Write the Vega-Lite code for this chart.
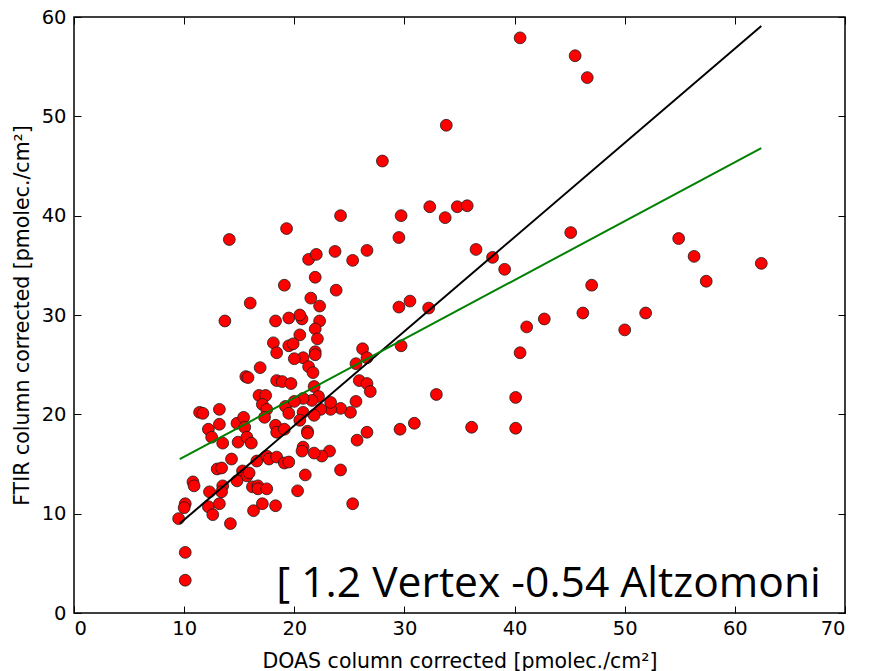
{
  "$schema": "https://vega.github.io/schema/vega-lite/v6.json",
  "width": 771,
  "height": 596,
  "autosize": {"type": "none"},
  "padding": {"left": 74, "top": 17, "right": 28, "bottom": 58},
  "background": "white",
  "config": {
    "view": {"stroke": "black", "strokeWidth": 1.5},
    "axis": {
      "grid": false, "domain": false,
      "labelFont": "DejaVu Sans", "labelFontSize": 19.5, "labelColor": "black",
      "tickColor": "black", "tickSize": -7, "tickWidth": 1,
      "titleFont": "DejaVu Sans", "titleFontSize": 20.5, "titleFontWeight": "normal", "titleColor": "black"
    }
  },
  "datasets": {
    "pts": [
      {"x":40.5,"y":57.9},{"x":45.5,"y":56.1},{"x":46.6,"y":53.9},{"x":33.8,"y":49.1},{"x":28.0,"y":45.5},
      {"x":24.2,"y":40.0},{"x":32.3,"y":40.9},{"x":33.7,"y":39.8},{"x":34.8,"y":40.9},{"x":35.7,"y":41.0},
      {"x":29.7,"y":40.0},{"x":29.5,"y":37.8},{"x":36.5,"y":36.6},{"x":38.0,"y":35.8},{"x":39.1,"y":34.6},
      {"x":29.5,"y":30.8},{"x":30.5,"y":31.4},{"x":32.2,"y":30.7},{"x":29.7,"y":26.9},{"x":32.9,"y":22.0},
      {"x":29.6,"y":18.5},{"x":30.9,"y":19.1},{"x":36.1,"y":18.7},{"x":40.1,"y":18.6},{"x":40.1,"y":21.7},
      {"x":40.5,"y":26.2},{"x":41.1,"y":28.8},{"x":42.7,"y":29.6},{"x":45.1,"y":38.3},{"x":46.2,"y":30.2},
      {"x":47.0,"y":33.0},{"x":50.0,"y":28.5},{"x":51.9,"y":30.2},{"x":54.9,"y":37.7},{"x":56.3,"y":35.9},
      {"x":57.4,"y":33.4},{"x":62.4,"y":35.2},{"x":26.2,"y":26.6},{"x":26.6,"y":25.7},{"x":25.6,"y":25.1},
      {"x":25.9,"y":23.4},{"x":26.6,"y":23.1},{"x":26.9,"y":22.3},{"x":25.6,"y":21.3},{"x":25.1,"y":20.2},
      {"x":24.2,"y":20.6},{"x":23.3,"y":20.5},{"x":23.3,"y":21.2},{"x":22.4,"y":20.5},{"x":21.8,"y":19.9},
      {"x":26.6,"y":18.2},{"x":25.7,"y":17.4},{"x":23.2,"y":16.3},{"x":22.5,"y":15.8},{"x":21.8,"y":16.1},
      {"x":24.2,"y":14.4},{"x":21.0,"y":13.9},{"x":25.3,"y":11.0},{"x":20.3,"y":12.3},{"x":20.8,"y":16.7},
      {"x":20.7,"y":16.3},{"x":21.2,"y":18.3},{"x":21.2,"y":18.1},{"x":23.8,"y":32.5},{"x":21.9,"y":33.8},
      {"x":22.3,"y":30.9},{"x":21.5,"y":31.7},{"x":22.3,"y":29.4},{"x":21.9,"y":28.6},{"x":22.1,"y":27.6},
      {"x":21.9,"y":26.3},{"x":21.9,"y":26.0},{"x":20.7,"y":29.6},{"x":20.5,"y":30.0},{"x":20.5,"y":28.0},
      {"x":20.8,"y":25.7},{"x":21.3,"y":24.8},{"x":21.7,"y":24.2},{"x":21.8,"y":22.8},{"x":22.2,"y":21.8},
      {"x":21.6,"y":21.4},{"x":20.8,"y":21.6},{"x":20.8,"y":20.2},{"x":20.5,"y":19.4},{"x":25.3,"y":35.5},
      {"x":21.3,"y":35.6},{"x":22.0,"y":36.1},{"x":23.7,"y":36.4},{"x":26.6,"y":36.5},{"x":19.3,"y":38.7},
      {"x":19.1,"y":33.0},{"x":18.3,"y":29.4},{"x":19.5,"y":29.7},{"x":18.1,"y":27.2},{"x":18.4,"y":26.2},
      {"x":19.5,"y":26.9},{"x":19.9,"y":27.1},{"x":20.0,"y":25.6},{"x":18.4,"y":23.4},{"x":18.9,"y":23.3},
      {"x":19.7,"y":23.1},{"x":14.1,"y":37.6},{"x":16.0,"y":31.2},{"x":13.7,"y":29.4},{"x":16.9,"y":24.7},
      {"x":15.6,"y":23.8},{"x":15.8,"y":23.7},{"x":16.8,"y":21.9},{"x":17.4,"y":21.9},{"x":17.1,"y":21.0},
      {"x":17.5,"y":20.5},{"x":17.3,"y":19.7},{"x":11.4,"y":20.2},{"x":11.7,"y":20.1},{"x":13.2,"y":20.5},
      {"x":12.2,"y":18.5},{"x":12.5,"y":17.7},{"x":13.2,"y":19.0},{"x":13.5,"y":17.1},{"x":14.8,"y":19.1},
      {"x":15.4,"y":19.7},{"x":15.5,"y":18.7},{"x":14.9,"y":17.2},{"x":15.7,"y":17.7},{"x":16.1,"y":17.1},
      {"x":18.3,"y":18.9},{"x":18.4,"y":18.2},{"x":14.3,"y":15.5},{"x":13.0,"y":14.5},{"x":13.4,"y":14.6},
      {"x":15.3,"y":14.3},{"x":15.7,"y":13.8},{"x":14.8,"y":13.3},{"x":15.9,"y":14.1},{"x":16.6,"y":15.3},
      {"x":17.5,"y":15.8},{"x":17.7,"y":15.5},{"x":18.4,"y":15.7},{"x":16.2,"y":12.7},{"x":16.7,"y":12.8},
      {"x":16.7,"y":12.5},{"x":17.5,"y":12.5},{"x":13.5,"y":12.8},{"x":13.4,"y":12.2},{"x":12.3,"y":12.2},
      {"x":10.8,"y":13.2},{"x":10.9,"y":12.8},{"x":12.2,"y":10.7},{"x":12.6,"y":9.9},{"x":13.2,"y":11.0},
      {"x":10.1,"y":11.0},{"x":10.0,"y":10.6},{"x":9.5,"y":9.5},{"x":14.2,"y":9.0},{"x":16.3,"y":10.3},
      {"x":17.1,"y":11.0},{"x":18.3,"y":10.8},{"x":10.1,"y":6.1},{"x":10.1,"y":3.3},{"x":19.2,"y":20.8},
      {"x":19.5,"y":20.1},{"x":20.0,"y":21.3},{"x":19.1,"y":18.5},{"x":19.1,"y":15.1},{"x":19.5,"y":15.2}
    ],
    "black": [{"x":9.6,"y":9.0},{"x":62.4,"y":59.1}],
    "green": [{"x":9.6,"y":15.5},{"x":62.4,"y":46.8}],
    "label": [{"x":67.8,"y":1.6,"t":"[ 1.2 Vertex -0.54 Altzomoni"}]
  },
  "layer": [
    {
      "data": {"name": "pts"},
      "mark": {"type": "circle", "size": 140, "color": "#ff0000", "stroke": "#1a1a1a", "strokeWidth": 0.8, "opacity": 1},
      "encoding": {
        "x": {"field": "x", "type": "quantitative",
              "scale": {"domain": [0, 70], "nice": false, "zero": false},
              "axis": {"orient": "bottom", "values": [0,10,20,30,40,50,60,70], "labelPadding": 13,
                       "title": "DOAS column corrected [pmolec./cm²]",
                       "titleX": 385.5, "titleY": 54, "titleAlign": "center", "titleBaseline": "alphabetic"}},
        "y": {"field": "y", "type": "quantitative",
              "scale": {"domain": [0, 60], "nice": false, "zero": false},
              "axis": {"orient": "left", "values": [0,10,20,30,40,50,60], "labelPadding": 15,
                       "title": "FTIR column corrected [pmolec./cm²]",
                       "titleX": -46, "titleY": 298, "titleAngle": 270, "titleAlign": "center", "titleBaseline": "alphabetic"}}
      }
    },
    {
      "data": {"name": "black"},
      "mark": {"type": "line", "color": "black", "strokeWidth": 2},
      "encoding": {
        "x": {"field": "x", "type": "quantitative",
              "axis": {"orient": "top", "values": [0,10,20,30,40,50,60,70], "labels": false, "title": null}},
        "y": {"field": "y", "type": "quantitative",
              "axis": {"orient": "right", "values": [0,10,20,30,40,50,60], "labels": false, "title": null}}
      }
    },
    {
      "data": {"name": "green"},
      "mark": {"type": "line", "color": "#008000", "strokeWidth": 2},
      "encoding": {
        "x": {"field": "x", "type": "quantitative", "axis": null},
        "y": {"field": "y", "type": "quantitative", "axis": null}
      }
    },
    {
      "data": {"name": "label"},
      "mark": {"type": "text", "align": "right", "baseline": "alphabetic", "font": "Open Sans", "fontSize": 42.6, "color": "black"},
      "encoding": {
        "x": {"field": "x", "type": "quantitative", "axis": null},
        "y": {"field": "y", "type": "quantitative", "axis": null},
        "text": {"field": "t"}
      }
    }
  ],
  "resolve": {"axis": {"x": "independent", "y": "independent"}}
}
